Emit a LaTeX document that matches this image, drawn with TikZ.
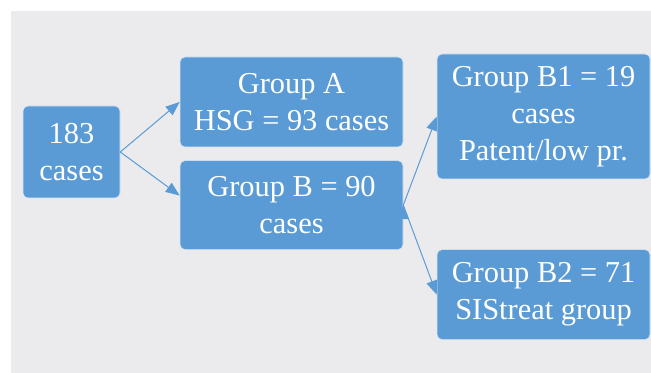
\documentclass[tikz,border=0pt]{standalone}
\usepackage{fontspec}
\setmainfont{Liberation Serif}
\usepackage{tikz}
\usetikzlibrary{arrows.meta,positioning}

\definecolor{boxblue}{RGB}{91,155,213}
\definecolor{backgray}{RGB}{235,235,237}

\begin{document}
\begin{tikzpicture}[x=0.5pt,y=-0.5pt,>={Triangle[length=7pt,width=5.5pt]},
    box/.style={rectangle, rounded corners=2.5pt, fill=boxblue, draw=white!75!boxblue,
      line width=0.3pt, text=white, align=center, inner sep=0pt,
      font=\fontsize{15.2}{18.5}\selectfont},
    wide/.style={minimum width=111.5pt, minimum height=45pt},
    narrow/.style={minimum width=106.5pt, minimum height=45pt}]
  \useasboundingbox (0,0) rectangle (651,373);
  \fill[backgray] (11,11) rectangle (651,373);

  \node[box, minimum width=48.5pt, minimum height=46pt] (s) at (71.5,152) {183\\cases};
  \node[box, wide]  (a)  at (291.5,102)       {Group A\\HSG = 93 cases};
  \node[box, wide, minimum height=44.5pt] (b) [below=6.5pt of a] {Group B = 90\\cases};
  \node[box, narrow, minimum height=62.5pt] (b1) at (543.5,116.5) {Group B1 = 19\\cases\\Patent/low pr.};
  \node[box, narrow] (b2) [below=35pt of b1] {Group B2 = 71\\SIStreat group};

  \draw[->, boxblue, line width=0.5pt]
      (s.east) edge (a.west)
               edge ([yshift=4.75pt]b.west)
      (b.east) edge (b1.west)
               edge (b2.west);
\end{tikzpicture}
\end{document}
